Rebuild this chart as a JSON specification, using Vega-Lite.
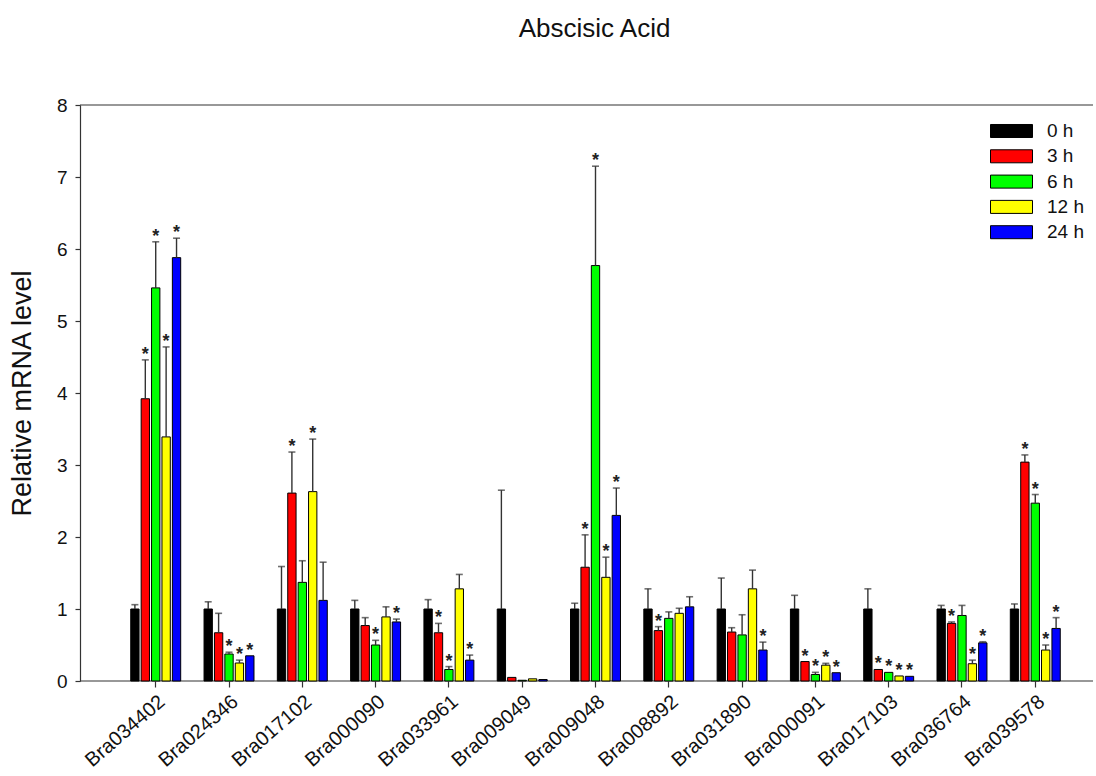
{
  "$schema": "https://vega.github.io/schema/vega-lite/v6.json",
  "width": 1013,
  "height": 576,
  "autosize": "none",
  "padding": {"left": 80, "top": 105, "right": 3, "bottom": 95},
  "background": "white",
  "config": {
    "font": "Liberation Sans",
    "view": {"stroke": null}
  },
  "title": {
    "text": "Abscisic Acid",
    "fontSize": 26,
    "fontWeight": "normal",
    "color": "#111",
    "anchor": "middle",
    "dx": 8,
    "offset": 54
  },
  "datasets": {
    "expr": [
      {"gene": "Bra034402", "time": "0 h", "value": 1.0, "hi": 1.06, "star": ""},
      {"gene": "Bra034402", "time": "3 h", "value": 3.92, "hi": 4.46, "star": "*"},
      {"gene": "Bra034402", "time": "6 h", "value": 5.46, "hi": 6.10, "star": "*"},
      {"gene": "Bra034402", "time": "12 h", "value": 3.39, "hi": 4.64, "star": "*"},
      {"gene": "Bra034402", "time": "24 h", "value": 5.88, "hi": 6.15, "star": "*"},
      {"gene": "Bra024346", "time": "0 h", "value": 1.0, "hi": 1.10, "star": ""},
      {"gene": "Bra024346", "time": "3 h", "value": 0.67, "hi": 0.94, "star": ""},
      {"gene": "Bra024346", "time": "6 h", "value": 0.375, "hi": 0.40, "star": "*"},
      {"gene": "Bra024346", "time": "12 h", "value": 0.25, "hi": 0.29, "star": "*"},
      {"gene": "Bra024346", "time": "24 h", "value": 0.35, "hi": 0.35, "star": "*"},
      {"gene": "Bra017102", "time": "0 h", "value": 1.0, "hi": 1.59, "star": ""},
      {"gene": "Bra017102", "time": "3 h", "value": 2.61, "hi": 3.18, "star": "*"},
      {"gene": "Bra017102", "time": "6 h", "value": 1.37, "hi": 1.67, "star": ""},
      {"gene": "Bra017102", "time": "12 h", "value": 2.63, "hi": 3.36, "star": "*"},
      {"gene": "Bra017102", "time": "24 h", "value": 1.12, "hi": 1.65, "star": ""},
      {"gene": "Bra000090", "time": "0 h", "value": 1.0, "hi": 1.12, "star": ""},
      {"gene": "Bra000090", "time": "3 h", "value": 0.77, "hi": 0.88, "star": ""},
      {"gene": "Bra000090", "time": "6 h", "value": 0.50, "hi": 0.565, "star": "*"},
      {"gene": "Bra000090", "time": "12 h", "value": 0.89, "hi": 1.03, "star": ""},
      {"gene": "Bra000090", "time": "24 h", "value": 0.82, "hi": 0.86, "star": "*"},
      {"gene": "Bra033961", "time": "0 h", "value": 1.0, "hi": 1.13, "star": ""},
      {"gene": "Bra033961", "time": "3 h", "value": 0.67, "hi": 0.80, "star": "*"},
      {"gene": "Bra033961", "time": "6 h", "value": 0.16, "hi": 0.20, "star": "*"},
      {"gene": "Bra033961", "time": "12 h", "value": 1.28, "hi": 1.48, "star": ""},
      {"gene": "Bra033961", "time": "24 h", "value": 0.29, "hi": 0.36, "star": "*"},
      {"gene": "Bra009049", "time": "0 h", "value": 1.0, "hi": 2.65, "star": ""},
      {"gene": "Bra009049", "time": "3 h", "value": 0.05, "hi": 0.05, "star": ""},
      {"gene": "Bra009049", "time": "6 h", "value": 0.01, "hi": 0.01, "star": ""},
      {"gene": "Bra009049", "time": "12 h", "value": 0.03, "hi": 0.03, "star": ""},
      {"gene": "Bra009049", "time": "24 h", "value": 0.02, "hi": 0.02, "star": ""},
      {"gene": "Bra009048", "time": "0 h", "value": 1.0, "hi": 1.08, "star": ""},
      {"gene": "Bra009048", "time": "3 h", "value": 1.58, "hi": 2.03, "star": "*"},
      {"gene": "Bra009048", "time": "6 h", "value": 5.77, "hi": 7.15, "star": "*"},
      {"gene": "Bra009048", "time": "12 h", "value": 1.44, "hi": 1.72, "star": "*"},
      {"gene": "Bra009048", "time": "24 h", "value": 2.30, "hi": 2.68, "star": "*"},
      {"gene": "Bra008892", "time": "0 h", "value": 1.0, "hi": 1.28, "star": ""},
      {"gene": "Bra008892", "time": "3 h", "value": 0.70, "hi": 0.755, "star": "*"},
      {"gene": "Bra008892", "time": "6 h", "value": 0.87, "hi": 0.96, "star": ""},
      {"gene": "Bra008892", "time": "12 h", "value": 0.94, "hi": 1.01, "star": ""},
      {"gene": "Bra008892", "time": "24 h", "value": 1.03, "hi": 1.17, "star": ""},
      {"gene": "Bra031890", "time": "0 h", "value": 1.0, "hi": 1.43, "star": ""},
      {"gene": "Bra031890", "time": "3 h", "value": 0.68, "hi": 0.74, "star": ""},
      {"gene": "Bra031890", "time": "6 h", "value": 0.64, "hi": 0.92, "star": ""},
      {"gene": "Bra031890", "time": "12 h", "value": 1.28, "hi": 1.54, "star": ""},
      {"gene": "Bra031890", "time": "24 h", "value": 0.43, "hi": 0.54, "star": "*"},
      {"gene": "Bra000091", "time": "0 h", "value": 1.0, "hi": 1.19, "star": ""},
      {"gene": "Bra000091", "time": "3 h", "value": 0.27, "hi": 0.27, "star": "*"},
      {"gene": "Bra000091", "time": "6 h", "value": 0.09, "hi": 0.12, "star": "*"},
      {"gene": "Bra000091", "time": "12 h", "value": 0.22, "hi": 0.245, "star": "*"},
      {"gene": "Bra000091", "time": "24 h", "value": 0.115, "hi": 0.115, "star": "*"},
      {"gene": "Bra017103", "time": "0 h", "value": 1.0, "hi": 1.28, "star": ""},
      {"gene": "Bra017103", "time": "3 h", "value": 0.16, "hi": 0.16, "star": "*"},
      {"gene": "Bra017103", "time": "6 h", "value": 0.12, "hi": 0.12, "star": "*"},
      {"gene": "Bra017103", "time": "12 h", "value": 0.07, "hi": 0.07, "star": "*"},
      {"gene": "Bra017103", "time": "24 h", "value": 0.065, "hi": 0.065, "star": "*"},
      {"gene": "Bra036764", "time": "0 h", "value": 1.0, "hi": 1.05, "star": ""},
      {"gene": "Bra036764", "time": "3 h", "value": 0.80, "hi": 0.82, "star": "*"},
      {"gene": "Bra036764", "time": "6 h", "value": 0.91, "hi": 1.05, "star": ""},
      {"gene": "Bra036764", "time": "12 h", "value": 0.24, "hi": 0.29, "star": "*"},
      {"gene": "Bra036764", "time": "24 h", "value": 0.53, "hi": 0.545, "star": "*"},
      {"gene": "Bra039578", "time": "0 h", "value": 1.0, "hi": 1.07, "star": ""},
      {"gene": "Bra039578", "time": "3 h", "value": 3.04, "hi": 3.14, "star": "*"},
      {"gene": "Bra039578", "time": "6 h", "value": 2.47, "hi": 2.59, "star": "*"},
      {"gene": "Bra039578", "time": "12 h", "value": 0.43, "hi": 0.50, "star": "*"},
      {"gene": "Bra039578", "time": "24 h", "value": 0.73, "hi": 0.88, "star": "*"}
    ],
    "frame": [{"v": 0}, {"v": 8}]
  },
  "layer": [
    {
      "data": {"name": "frame"},
      "mark": {"type": "rule", "color": "#333", "strokeWidth": 1.2},
      "encoding": {
        "y": {"field": "v", "type": "quantitative"}
      }
    },
    {
      "data": {"name": "expr"},
      "mark": {"type": "bar", "stroke": "#000", "strokeWidth": 1},
      "encoding": {
        "x": {
          "field": "gene",
          "type": "nominal",
          "sort": null,
          "scale": {"range": [0, 1031], "paddingInner": 0.29, "paddingOuter": 0.678},
          "axis": {
            "title": null,
            "domain": false,
            "labelAngle": -41,
            "labelAlign": "right",
            "labelBaseline": "top",
            "labelFontSize": 20,
            "labelColor": "#111",
            "labelPadding": 4,
            "tickSize": 6,
            "tickColor": "#333",
            "tickWidth": 1.2
          }
        },
        "xOffset": {
          "field": "time",
          "type": "nominal",
          "sort": ["0 h", "3 h", "6 h", "12 h", "24 h"],
          "scale": {"paddingInner": 0.2, "paddingOuter": 0.1}
        },
        "y": {
          "field": "value",
          "type": "quantitative",
          "scale": {"domain": [0, 8], "nice": false},
          "axis": {
            "title": "Relative mRNA level",
            "titleFontSize": 27,
            "titleFontWeight": "normal",
            "titleColor": "#111",
            "titlePadding": 20,
            "values": [0, 1, 2, 3, 4, 5, 6, 7, 8],
            "format": "d",
            "grid": false,
            "labelFontSize": 19,
            "labelColor": "#111",
            "labelPadding": 8,
            "tickSize": 5,
            "tickColor": "#333",
            "tickWidth": 1.2,
            "domainColor": "#333",
            "domainWidth": 1.2
          }
        },
        "color": {
          "field": "time",
          "type": "nominal",
          "sort": ["0 h", "3 h", "6 h", "12 h", "24 h"],
          "scale": {
            "domain": ["0 h", "3 h", "6 h", "12 h", "24 h"],
            "range": ["#000000", "#ff0000", "#00ff00", "#ffff00", "#0000ff"]
          },
          "legend": {
            "title": null,
            "orient": "none",
            "legendX": 910,
            "legendY": 17,
            "symbolType": "M-1,-0.31L1,-0.31L1,0.31L-1,0.31Z",
            "symbolSize": 1764,
            "symbolStrokeColor": "#000",
            "symbolStrokeWidth": 1,
            "symbolOpacity": 1,
            "labelFontSize": 19,
            "labelColor": "#111",
            "labelOffset": 14,
            "clipHeight": 18,
            "rowPadding": 6.3
          }
        }
      }
    },
    {
      "data": {"name": "expr"},
      "transform": [{"filter": "datum.hi > datum.value"}],
      "mark": {"type": "rule", "color": "#333", "strokeWidth": 1.4},
      "encoding": {
        "x": {"field": "gene", "type": "nominal", "sort": null},
        "xOffset": {"field": "time", "type": "nominal", "sort": ["0 h", "3 h", "6 h", "12 h", "24 h"]},
        "y": {"field": "value", "type": "quantitative"},
        "y2": {"field": "hi"}
      }
    },
    {
      "data": {"name": "expr"},
      "transform": [{"filter": "datum.hi > datum.value"}],
      "mark": {"type": "tick", "color": "#333", "thickness": 1.6, "size": 7, "orient": "horizontal"},
      "encoding": {
        "x": {"field": "gene", "type": "nominal", "sort": null},
        "xOffset": {"field": "time", "type": "nominal", "sort": ["0 h", "3 h", "6 h", "12 h", "24 h"]},
        "y": {"field": "hi", "type": "quantitative"}
      }
    },
    {
      "data": {"name": "expr"},
      "mark": {"type": "text", "fontSize": 18, "fontWeight": "bold", "color": "#222", "baseline": "alphabetic", "dy": 0},
      "encoding": {
        "x": {"field": "gene", "type": "nominal", "sort": null},
        "xOffset": {"field": "time", "type": "nominal", "sort": ["0 h", "3 h", "6 h", "12 h", "24 h"]},
        "y": {"field": "hi", "type": "quantitative"},
        "text": {"field": "star"}
      }
    }
  ]
}
